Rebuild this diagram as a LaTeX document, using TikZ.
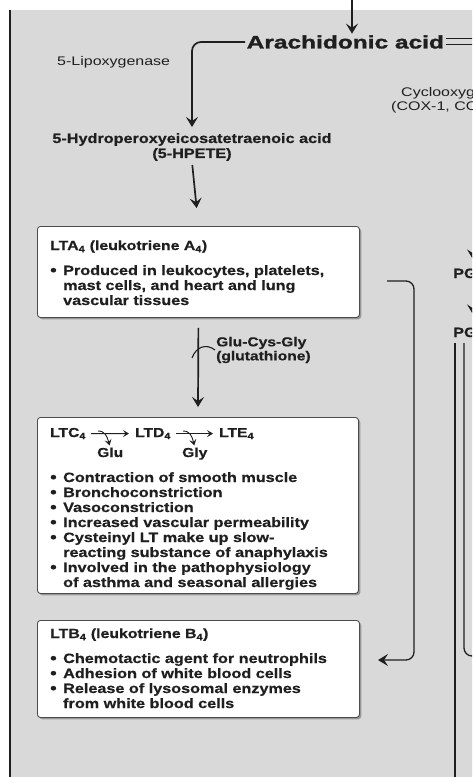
\documentclass[tikz,border=0pt]{standalone}
\usepackage{fontspec}
\setmainfont{Liberation Sans}
\newfontfamily\wideR[FakeStretch=1.28]{Liberation Sans}
\newfontfamily\wideB[FakeStretch=1.2,BoldFeatures={FakeBold=0.6}]{Liberation Sans}
\newfontfamily\wideAA[FakeStretch=1.36,BoldFeatures={FakeBold=1.6}]{Liberation Sans}
\usetikzlibrary{arrows.meta,shadows}
\definecolor{bgpanel}{gray}{0.85}
\definecolor{ink}{gray}{0.12}
\definecolor{boxline}{gray}{0.3}
\newcommand{\sbf}[1]{\textsubscript{#1}}
\newcommand{\bul}{\raisebox{-0.3pt}{\fontsize{15.5}{12}\selectfont •}}
\newcommand{\ttlf}{\fontsize{13.2}{15}\selectfont}
\tikzset{
  arr/.style={draw=ink, line width=1.7pt, -{Stealth[length=10pt,width=12pt,inset=4pt]}},
  smallarr/.style={draw=ink, line width=1pt, -{Stealth[length=6pt,width=7pt,inset=2.5pt]}},
  conn/.style={draw=ink, line width=1.3pt},
  boxnode/.style={draw=boxline, line width=0.9pt, fill=white, rounded corners=3pt, inner sep=0pt, anchor=north west,
     drop shadow={shadow xshift=1.8pt, shadow yshift=-1.8pt, fill=black, opacity=0.3}},
  regtext/.style={font=\wideR\fontsize{12.5}{14}\selectfont, text=ink, inner sep=1pt},
  boldtext/.style={font=\wideB\bfseries\fontsize{13.5}{15}\selectfont, text=ink, inner sep=1pt},
  titletext/.style={font=\wideB\bfseries\fontsize{13}{15}\selectfont, text=ink, inner sep=0pt},
}
\begin{document}
\begin{tikzpicture}[x=1pt,y=-1pt]
\useasboundingbox (0,0) rectangle (472,777);
\clip (0,0) rectangle (472,777);
\fill[white] (0,0) rectangle (472,777);
\fill[bgpanel] (10,10) rectangle (480,785);
\draw[ink, line width=1.5pt] (10,10) -- (10,785);

% top part
\node[font=\wideAA\bfseries\fontsize{18}{18}\selectfont, text=ink, anchor=west, inner sep=1.5pt] (aa) at (245,42) {Arachidonic acid};
\coordinate (topin) at (352,-2);
\draw[arr] (topin) -- (topin |- aa.north);
\draw[conn, line width=1pt] ([yshift=3.5pt]aa.east) -- ++(30,0);
\draw[conn, line width=1pt] ([yshift=-2.5pt]aa.east) -- ++(30,0);

\node[regtext, anchor=west] (lox) at (56,62) {5-Lipoxygenase};
\node[regtext, anchor=base west] (cox) at (400,96) {Cyclooxygenase};
\node[regtext, anchor=base west] (coxi) at (390,110) {(COX-1, COX-2)};

\node[boldtext, align=center] (hpete) at (192,147) {5-Hydroperoxyeicosatetraenoic acid\\(5-HPETE)};
\draw[arr, rounded corners=9pt, shorten >=5pt] (aa.west) -- (aa.west -| hpete.north) -- (hpete.north);

% box 1
\node[boxnode, minimum width=322pt, minimum height=91pt] (box1) at (37,226) {};
\node[boldtext, anchor=base west, inner sep=0pt] (c1) at (50,250) {\begin{tabular}[t]{@{}p{13pt}@{}l@{}}
\multicolumn{2}{@{}l@{}}{\ttlf LTA\sbf4 (leukotriene A\sbf4)}\\[10pt]
\bul & Produced in leukocytes, platelets,\\
 & mast cells, and heart and lung\\
 & vascular tissues
\end{tabular}};
\draw[arr, shorten <=3pt, shorten >=18pt] (hpete.south) -- (box1.north);

% glutathione
\node[boldtext, font=\wideB\bfseries\fontsize{13}{14}\selectfont, align=left, anchor=west] (gsh) at (215,350) {Glu-Cys-Gly\\(glutathione)};

% box 2
\node[boxnode, minimum width=321pt, minimum height=176pt] (box2) at (37,417) {};
\draw[arr, shorten <=10pt, shorten >=10pt] (box1.south) -- (box2.north);
\coordinate (gb) at (192,358);
\draw[ink, line width=1.1pt] (gb) .. controls (196,347) and (206,343) .. (gsh.west);

\node[titletext, anchor=base west] (ltc) at (50,437) {LTC\sbf4};
\node[titletext, anchor=base west] (ltd) at (135,437) {LTD\sbf4};
\node[titletext, anchor=base west] (lte) at (219,437) {LTE\sbf4};
\node[titletext, anchor=base west] (glu) at (97,457) {Glu};
\node[titletext, anchor=base west] (gly) at (182,457) {Gly};
\draw[smallarr, shorten <=5pt, shorten >=6pt] (ltc.east) -- (ltd.west);
\draw[smallarr, shorten <=5pt, shorten >=6pt] (ltd.east) -- (lte.west);
\coordinate (b1) at (98,431);
\coordinate (b2) at (183,431);
\draw[smallarr, line width=0.9pt, shorten >=2pt] (b1) .. controls (105,431) and (107,436) .. (glu.north);
\draw[smallarr, line width=0.9pt, shorten >=2pt] (b2) .. controls (190,431) and (192,436) .. (gly.north);

\node[boldtext, anchor=base west, inner sep=0pt] (c2) at (50,482) {\begin{tabular}[t]{@{}p{13pt}@{}l@{}}
\bul & Contraction of smooth muscle\\
\bul & Bronchoconstriction\\
\bul & Vasoconstriction\\
\bul & Increased vascular permeability\\
\bul & Cysteinyl LT make up slow-\\
 & reacting substance of anaphylaxis\\
\bul & Involved in the pathophysiology\\
 & of asthma and seasonal allergies
\end{tabular}};

% box 3
\node[boxnode, minimum width=322pt, minimum height=97pt] (box3) at (37,620) {};
\node[boldtext, anchor=base west, inner sep=0pt] (c3) at (50,638) {\begin{tabular}[t]{@{}p{13pt}@{}l@{}}
\multicolumn{2}{@{}l@{}}{\ttlf LTB\sbf4 (leukotriene B\sbf4)}\\[10pt]
\bul & Chemotactic agent for neutrophils\\
\bul & Adhesion of white blood cells\\
\bul & Release of lysosomal enzymes\\
 & from white blood cells
\end{tabular}};

% LTA4 -> LTB4 connector
\coordinate (r1) at (387,281);
\coordinate (r2) at (378,660);
\draw[arr, line width=1.3pt, rounded corners=8pt] (r1) -- (414,281) -- (414,660) -- (r2);

% right side (cut off)
\node[boldtext, anchor=base west] (pgg) at (452,278) {PGG\sbf2};
\node[boldtext, anchor=base west] (pgh) at (452,337) {PGH\sbf2};
\coordinate (pa) at (473,232);
\coordinate (pb) at (473,286);
\draw[arr, line width=1pt, shorten >=8pt] (pa) -- (pa |- pgg.north);
\draw[arr, line width=1pt, shorten >=12pt] (pb) -- (pb |- pgh.north);
\coordinate (v1) at (455,343);
\coordinate (v2) at (464,343);
\draw[conn] (v1) -- (455,785);
\draw[conn, rounded corners=8pt] (v2) -- (464,656) -- (480,656);
\end{tikzpicture}
\end{document}
